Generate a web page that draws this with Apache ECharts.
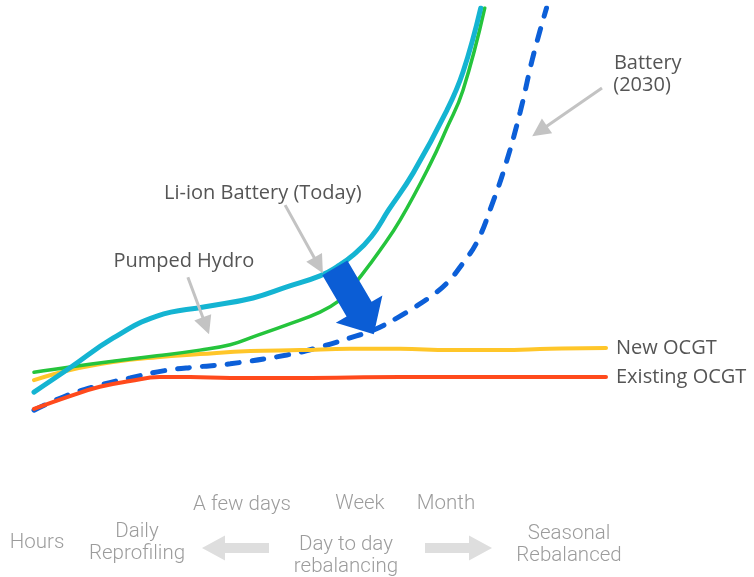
<!DOCTYPE html>
<html>
<head>
<meta charset="utf-8">
<title>Storage cost by duration</title>
<script src="https://cdn.jsdelivr.net/npm/echarts@6/dist/echarts.min.js"></script>
<style>
  html, body { margin: 0; padding: 0; background: #ffffff; }
  #chart { width: 754px; height: 577px; }
</style>
</head>
<body>
<div id="chart"></div>
<script>
// Duration index (x, 0-100) vs relative cost (y, 0-100)
const liIonToday = [[0,13.1],[6.3,18.6],[13.8,25.3],[21.5,30.3],[29.9,32.4],[38.3,34.4],[44.2,36.9],[50.0,39.4],[53.0,41.5],[56.0,44.3],[59.0,48.3],[62.0,54.3],[66.3,62.7],[72.2,76.9],[75.0,85.5],[78.1,100]];
const pumpedHydro = [[0,17.6],[6.3,18.8],[13.8,20.1],[21.5,21.3],[29.0,22.6],[34.3,23.8],[38.3,25.6],[44.2,28.3],[50.0,31.2],[53.5,33.9],[55.2,36.3],[57.0,39.1],[60.5,45.2],[64.0,52.0],[69.2,64.5],[72.2,72.9],[75.0,81.4],[78.8,100]];
const newOcgt = [[0,15.8],[6.3,18.1],[13.8,19.9],[21.5,21.0],[29.0,21.7],[37.8,22.4],[46.5,22.6],[55.2,22.9],[64.0,22.9],[72.7,22.6],[81.5,22.6],[90.2,22.9],[100,23.1]];
const existingOcgt = [[0,9.3],[6.3,12.2],[11.5,14.3],[16.8,15.6],[22.0,16.5],[27.3,16.5],[34.3,16.3],[46.5,16.3],[64.0,16.5],[81.5,16.5],[100,16.5]];
const battery2030 = [[0,9.0],[5.1,12.0],[11.0,14.5],[16.8,16.3],[22.6,17.9],[28.5,18.8],[34.3,19.5],[44.2,21.5],[50.0,23.3],[55.8,25.6],[59.3,27.1],[63.5,29.9],[66.3,32.1],[69.2,34.6],[72.2,37.8],[75.0,42.3],[77.5,47.2],[80.0,55.3],[82.5,64.8],[85.0,76.5],[87.2,88.8],[89.6,100]];

// Cost-reduction arrow: from today's Li-ion curve down to the 2030 curve
const costDropArrow = [[52.6,41.2,59.4,26.2]];
// Callout pointers [fromX, fromY, toX, toY]
const pointerArrows = [[43.9,55.4,50.5,40.0],[26.9,39.1,30.6,26.2],[99.3,81.9,87.1,71.0]];
const calloutTexts = ['Li-ion Battery (Today)', 'Pumped Hydro', 'Battery', '(2030)'];
const calloutAt = [[40.0,58.1],[26.2,42.8],[107.3,87.6],[106.3,82.4]];

// Duration scale along the bottom
const durationTop = ['A few days', 'Week', 'Month'];
const durationMid = ['Hours', 'Daily\nReprofiling', 'Day to day\nrebalancing', 'Seasonal\nRebalanced'];

const LABEL_FONT = '"Open Sans", "Noto Sans", sans-serif';
const SCALE_FONT = 'Roboto, "Liberation Sans", sans-serif';

function arrowPoints(p0, p1, shaftW, headW, headL) {
  const dx = p1[0] - p0[0], dy = p1[1] - p0[1];
  const len = Math.hypot(dx, dy) || 1;
  const ux = dx / len, uy = dy / len;
  const nx = -uy, ny = ux;
  const bx = p1[0] - ux * headL, by = p1[1] - uy * headL;
  const s = shaftW / 2, h = headW / 2;
  return [
    [p0[0] + nx * s, p0[1] + ny * s],
    [bx + nx * s, by + ny * s],
    [bx + nx * h, by + ny * h],
    [p1[0], p1[1]],
    [bx - nx * h, by - ny * h],
    [bx - nx * s, by - ny * s],
    [p0[0] - nx * s, p0[1] - ny * s]
  ];
}

function arrowRenderer(shaftW, headW, headL, color) {
  return function (params, api) {
    const p0 = api.coord([api.value(0), api.value(1)]);
    const p1 = api.coord([api.value(2), api.value(3)]);
    return {
      type: 'polygon',
      shape: { points: arrowPoints(p0, p1, shaftW, headW, headL) },
      style: { fill: color }
    };
  };
}

function lineSeries(name, data, color, width, extra) {
  return Object.assign({
    name: name,
    type: 'line',
    data: data,
    smooth: 0.45,
    showSymbol: false,
    symbol: 'none',
    silent: true,
    lineStyle: { color: color, width: width, cap: 'round', join: 'round' }
  }, extra || {});
}

const chart = echarts.init(document.getElementById('chart'), null, { renderer: 'canvas' });

const endLabel = {
  show: true,
  formatter: '{a}',
  distance: 10,
  color: '#555555',
  fontFamily: LABEL_FONT,
  fontSize: 20
};

const bottomGraphics = [];
function scaleText(text, x, y) {
  bottomGraphics.push({
    type: 'text', x: x, y: y,
    style: {
      text: text,
      fill: '#9c9c9c', font: '300 20.5px ' + SCALE_FONT,
      align: 'center', verticalAlign: 'middle', lineHeight: 22
    }
  });
}

const option = {
  animation: false,
  backgroundColor: '#ffffff',
  grid: { left: 34, right: 148, top: 8, bottom: 127, containLabel: false },
  xAxis: { type: 'value', min: 0, max: 100, show: false },
  yAxis: { type: 'value', min: 0, max: 100, show: false },
  series: [
    lineSeries('Battery (2030)', battery2030, '#0c5fd8', 5, {
      lineStyle: { color: '#0c5fd8', width: 5, cap: 'round', type: [12, 13] }
    }),
    lineSeries('New OCGT', newOcgt, '#ffc629', 4, { endLabel: endLabel }),
    lineSeries('Existing OCGT', existingOcgt, '#ff4a1c', 4, { endLabel: endLabel }),
    lineSeries('Pumped Hydro', pumpedHydro, '#25c43c', 3.5),
    lineSeries('Li-ion Battery (Today)', liIonToday, '#14b4d2', 5),
    {
      type: 'custom', name: 'pointers', coordinateSystem: 'cartesian2d',
      data: pointerArrows, silent: true, clip: false,
      encode: { x: [0, 2], y: [1, 3] },
      renderItem: arrowRenderer(3, 18, 18, '#c3c3c3'), z: 5
    },
    {
      type: 'custom', name: 'cost drop', coordinateSystem: 'cartesian2d',
      data: costDropArrow, silent: true, clip: false,
      encode: { x: [0, 2], y: [1, 3] },
      renderItem: arrowRenderer(29, 54, 29, '#0b5dd5'), z: 6
    },
    {
      type: 'custom', name: 'callouts', coordinateSystem: 'cartesian2d',
      data: calloutAt, silent: true, clip: false,
      encode: { x: 0, y: 1 },
      renderItem: function (params, api) {
        const p = api.coord([api.value(0), api.value(1)]);
        return {
          type: 'text',
          style: {
            text: calloutTexts[params.dataIndex],
            x: p[0], y: p[1],
            align: 'center', verticalAlign: 'middle',
            fill: '#555555', font: '20px ' + LABEL_FONT
          }
        };
      }, z: 7
    }
  ],
  graphic: bottomGraphics
};

// Bottom duration scale
scaleText(durationTop[0], 242, 504.5);
scaleText(durationTop[1], 360, 503.5);
scaleText(durationTop[2], 446, 503.5);
scaleText(durationMid[0], 37, 542.5);
scaleText(durationMid[1], 137, 543);
scaleText(durationMid[2], 346, 555.5);
scaleText(durationMid[3], 569, 544.5);

function flatArrow(tipX, dir) {
  // dir = -1 points left, 1 points right
  const cy = 548, headL = 23, headH = 12.5, shaftH = 5, shaftL = 44;
  const base = tipX - dir * headL;
  const end = base - dir * shaftL;
  bottomGraphics.push({
    type: 'polygon',
    shape: { points: [
      [end, cy - shaftH], [base, cy - shaftH], [base, cy - headH], [tipX, cy],
      [base, cy + headH], [base, cy + shaftH], [end, cy + shaftH]
    ] },
    style: { fill: '#dedede' }
  });
}
flatArrow(202, -1);
flatArrow(492, 1);

chart.setOption(option);
</script>
</body>
</html>
